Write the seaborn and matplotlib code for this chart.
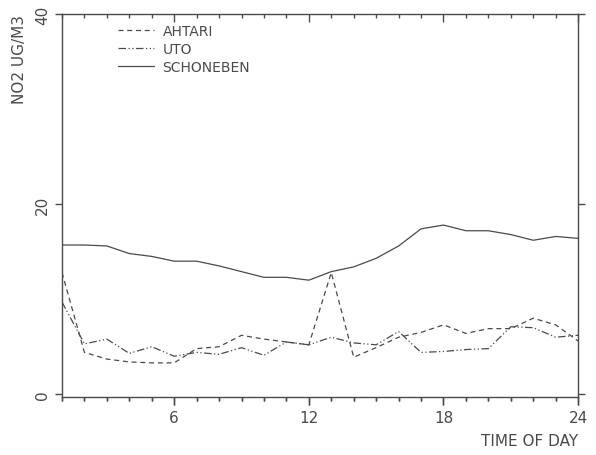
import pandas as pd
import numpy as np
import seaborn as sns
import matplotlib.pyplot as plt
from matplotlib.ticker import FixedLocator, FuncFormatter, NullFormatter

# Heures et concentrations
hours = list(range(1, 25))
major_hours = [6, 12, 18, 24]
ahtari = [12.8, 4.4, 3.7, 3.4, 3.3, 3.3, 4.8, 5.0, 6.2, 5.8, 5.5, 5.2,
          12.8, 3.9, 4.9, 6.0, 6.5, 7.3, 6.4, 6.9, 6.9, 8.0, 7.3, 5.6]
uto = [9.7, 5.3, 5.8, 4.3, 5.0, 4.0, 4.4, 4.2, 4.9, 4.1, 5.5, 5.2,
       6.0, 5.4, 5.2, 6.6, 4.4, 4.5, 4.7, 4.8, 7.1, 7.0, 6.0, 6.2]
schoneben = [15.7, 15.7, 15.6, 14.8, 14.5, 14.0, 14.0, 13.5, 12.9, 12.3, 12.3, 12.0,
             12.9, 13.4, 14.3, 15.6, 17.4, 17.8, 17.2, 17.2, 16.8, 16.2, 16.6, 16.4]

df = pd.DataFrame({'hour': hours, 'AHTARI': ahtari, 'UTO': uto, 'SCHONEBEN': schoneben})

sns.set_style('ticks')
plt.rcParams['font.family'] = ['DejaVu Sans']
ink = '#4a4a4a'

fig = plt.figure(figsize=(5.96, 4.56), dpi=100)
ax = fig.add_axes([0.104, 0.127, 0.866, 0.840])

styles = {'AHTARI': (0, (4, 3)), 'UTO': (0, (6, 2, 1, 2, 1, 2)), 'SCHONEBEN': '-'}
for name, ls in styles.items():
    sns.lineplot(data=df, x='hour', y=name, ax=ax, color=ink, linewidth=0.9,
                 linestyle=ls, label=name)

ax.set_xlim(1, 24)
ax.set_ylim(-0.3, 40)

for side in ['left', 'right', 'top', 'bottom']:
    ax.spines[side].set_visible(True)
    ax.spines[side].set_color(ink)
    ax.spines[side].set_linewidth(1.0)

# graduations du haut (vers l'intérieur) et du bas (vers l'extérieur), une par heure
top = ax.twiny()
bot = ax.twiny()
for tw in (top, bot):
    tw.set_xlim(ax.get_xlim())
    tw.xaxis.set_major_locator(FixedLocator(hours))
    tw.xaxis.set_major_formatter(NullFormatter())
    for s in tw.spines.values():
        s.set_visible(False)
top.tick_params(axis='x', direction='in', length=6, width=1.0, color=ink,
                top=True, bottom=False, labeltop=False, labelbottom=False)
bot.tick_params(axis='x', direction='out', length=6, width=1.0, color=ink,
                top=False, bottom=True, labeltop=False, labelbottom=False)

# étiquettes toutes les 6 heures sur l'axe principal
hour_fmt = FuncFormatter(lambda v, p: f'{int(v)}' if int(v) in major_hours else '')
ax.xaxis.set_major_locator(FixedLocator(hours))
ax.xaxis.set_major_formatter(hour_fmt)
ax.tick_params(axis='x', which='major', direction='out', length=6, width=1.0, color=ink,
               labelcolor=ink, labelsize=11, pad=3, top=False, bottom=True)
ax.set_yticks([0, 20, 40])
ax.tick_params(axis='y', which='major', direction='out', length=5, width=1, color=ink,
               labelcolor=ink, labelsize=11, labelrotation=90, right=True)
for lbl in ax.get_yticklabels():
    lbl.set_va('center')

for axis_, line_attr in [(ax.xaxis, 'tick1line'), (bot.xaxis, 'tick1line'),
                         (top.xaxis, 'tick2line')]:
    for v, tick in zip(hours, axis_.get_major_ticks()):
        getattr(tick, line_attr).set_markersize(6 if v in major_hours else 3)

ax.set_xlabel('TIME OF DAY', color=ink, fontsize=11, loc='right', labelpad=6)
ax.set_ylabel('NO2 UG/M3', color=ink, fontsize=11, loc='top', labelpad=6)

leg = ax.legend(loc='upper left', bbox_to_anchor=(0.09, 1.0), frameon=False,
                fontsize=10, handlelength=2.6, handletextpad=0.6,
                labelspacing=0.3, borderaxespad=0.3)
for t in leg.get_texts():
    t.set_color(ink)

plt.savefig('out.png', dpi=100)
